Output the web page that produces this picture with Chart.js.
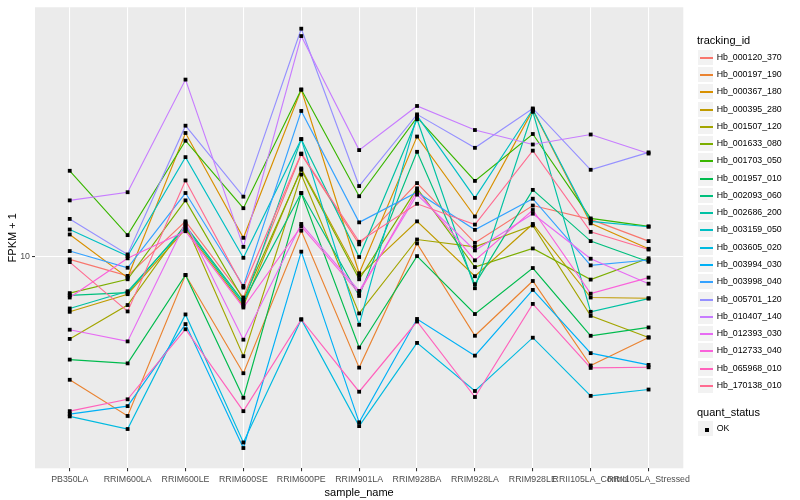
<!DOCTYPE html>
<html>
<head>
<meta charset="utf-8">
<script src="https://cdn.jsdelivr.net/npm/chart.js@4/dist/chart.umd.min.js"></script>
<style>
  body { margin: 0; background: #ffffff; }
  #wrap { position: relative; width: 800px; height: 500px; font-family: 'Liberation Sans', Arial, sans-serif; }
  #c { position: absolute; left: 0; top: 0; }
  .lgt { position: absolute; left: 697px; font-size: 11px; line-height: 13px; color: #000; white-space: nowrap; }
  .key { position: absolute; left: 697px; width: 17px; height: 17px; box-sizing: border-box; background: #F2F2F2; border: 0.5px solid #ffffff; }
  .kline { position: absolute; left: 1.5px; width: 13.5px; top: 7px; height: 1.6px; }
  .kpt { position: absolute; left: 6.5px; top: 6.5px; width: 4px; height: 4px; background: #000; }
  .lbl { position: absolute; left: 716.7px; font-size: 8.8px; line-height: 17px; color: #000; white-space: nowrap; }
</style>
</head>
<body>
<div id="wrap">
  <canvas id="c" width="800" height="500"></canvas>
</div>
<script>
// ---------- data ----------
const categories = ['PB350LA', 'RRIM600LA', 'RRIM600LE', 'RRIM600SE', 'RRIM600PE', 'RRIM901LA',
  'RRIM928BA', 'RRIM928LA', 'RRIM928LE', 'RRII105LA_Control', 'RRII105LA_Stressed'];

const trackingIds = ['Hb_000120_370', 'Hb_000197_190', 'Hb_000367_180', 'Hb_000395_280', 'Hb_001507_120',
  'Hb_001633_080', 'Hb_001703_050', 'Hb_001957_010', 'Hb_002093_060', 'Hb_002686_200',
  'Hb_003159_050', 'Hb_003605_020', 'Hb_003994_030', 'Hb_003998_040', 'Hb_005701_120',
  'Hb_010407_140', 'Hb_012393_030', 'Hb_012733_040', 'Hb_065968_010', 'Hb_170138_010'];

// FPKM + 1 per sample (order of categories)
const hb_000120_370 = [9.77, 8.60, 13.1, 7.28, 22.0, 10.97, 17.6, 11.10, 14.8, 13.3, 11.25];
const hb_000197_190 = [3.86, 2.92, 8.66, 4.06, 12.19, 4.24, 11.05, 5.42, 8.27, 4.31, 5.35];
const hb_000367_180 = [11.84, 8.49, 25.9, 11.54, 36.2, 8.78, 25.2, 13.6, 30.9, 12.9, 10.6];
const hb_000395_280 = [6.52, 7.47, 12.33, 6.83, 19.7, 8.60, 13.1, 8.58, 12.84, 7.28, 7.24];
const hb_001507_120 = [5.29, 6.87, 12.81, 4.63, 18.8, 6.44, 11.39, 10.76, 12.69, 6.32, 5.35];
const hb_001633_080 = [7.53, 8.38, 15.4, 7.15, 19.5, 8.38, 16.9, 9.21, 10.63, 8.36, 9.85];
const hb_001703_050 = [19.35, 11.78, 24.4, 14.5, 36.2, 15.9, 29.2, 17.9, 25.7, 13.4, 12.6];
const hb_001957_010 = [4.51, 4.38, 8.66, 3.36, 16.3, 4.95, 10.02, 6.41, 9.14, 5.42, 5.78];
const hb_002093_060 = [7.40, 7.56, 12.67, 7.04, 16.3, 7.37, 22.4, 8.07, 16.7, 11.25, 9.59];
const hb_002686_200 = [6.69, 7.64, 12.52, 6.93, 24.7, 9.95, 28.8, 7.82, 30.5, 6.52, 7.22];
const hb_003159_050 = [12.30, 10.02, 21.5, 9.89, 24.7, 5.90, 29.6, 15.7, 31.1, 13.1, 12.57];
const hb_003605_020 = [2.91, 2.64, 6.39, 2.38, 6.15, 2.70, 5.13, 3.54, 5.34, 3.41, 3.58];
const hb_003994_030 = [2.96, 3.15, 5.93, 2.28, 10.37, 2.78, 6.17, 4.65, 7.72, 4.74, 4.33];
const hb_003998_040 = [10.42, 9.16, 16.3, 7.96, 30.7, 13.0, 16.4, 12.27, 15.6, 9.33, 9.72];
const hb_005701_120 = [13.35, 10.15, 27.4, 15.85, 57.9, 17.2, 29.9, 23.1, 31.3, 19.5, 22.3];
const hb_010407_140 = [15.4, 16.4, 39.1, 10.76, 54.7, 22.7, 31.9, 26.5, 23.7, 25.6, 22.1];
const hb_012393_030 = [5.68, 5.19, 12.96, 5.26, 12.84, 7.66, 16.1, 10.47, 13.9, 9.82, 8.10];
const hb_012733_040 = [7.28, 9.85, 12.14, 6.74, 12.6, 7.52, 16.6, 9.70, 14.3, 7.50, 8.49];
const hb_065968_010 = [3.03, 3.32, 5.70, 3.03, 6.15, 3.52, 6.05, 3.38, 6.93, 4.23, 4.25];
const hb_170138_010 = [9.57, 6.54, 17.96, 7.86, 22.1, 11.19, 15.0, 12.78, 22.6, 12.08, 10.54];

const seriesValues = [hb_000120_370, hb_000197_190, hb_000367_180, hb_000395_280, hb_001507_120,
  hb_001633_080, hb_001703_050, hb_001957_010, hb_002093_060, hb_002686_200,
  hb_003159_050, hb_003605_020, hb_003994_030, hb_003998_040, hb_005701_120,
  hb_010407_140, hb_012393_030, hb_012733_040, hb_065968_010, hb_170138_010];

const yTickValues = [10];
const quantStatus = ['OK'];

// ---------- styles ----------
const palette = ['#F8766D', '#EA8331', '#D89000', '#C09B00', '#A3A500', '#7CAE00', '#39B600', '#00BB4E',
  '#00BF7D', '#00C1A3', '#00BFC4', '#00BAE0', '#00B0F6', '#35A2FF', '#9590FF', '#C77CFF',
  '#E76BF3', '#FA62DB', '#FF62BC', '#FF6C91'];
const FAMILY = "'Liberation Sans', Arial, sans-serif";

const panelBg = {
  id: 'panelBg',
  beforeDraw(chart) {
    const { ctx, chartArea: a } = chart;
    ctx.save();
    ctx.fillStyle = '#EBEBEB';
    ctx.fillRect(a.left, a.top, a.right - a.left, a.bottom - a.top);
    ctx.restore();
  }
};

// black square markers drawn on top of all lines (as ggplot does)
const markers = {
  id: 'markers',
  afterDatasetsDraw(chart) {
    const ctx = chart.ctx;
    ctx.save();
    ctx.fillStyle = '#000000';
    const s = 3.8;
    chart.getSortedVisibleDatasetMetas().forEach(meta => {
      meta.data.forEach(el => {
        ctx.fillRect(el.x - s / 2, el.y - s / 2, s, s);
      });
    });
    ctx.restore();
  }
};

const N = trackingIds.length;
new Chart(document.getElementById('c'), {
  type: 'line',
  data: {
    datasets: trackingIds.map((id, i) => ({
      label: id,
      data: seriesValues[i].map((v, j) => ({ x: j, y: v })),
      borderColor: palette[i],
      backgroundColor: palette[i],
      borderWidth: 1.15,
      pointRadius: 0,
      fill: false,
      tension: 0,
      order: N - i
    }))
  },
  options: {
    responsive: false,
    animation: false,
    events: [],
    layout: { padding: { top: 5, right: 116.7, left: 0, bottom: 0 } },
    plugins: { legend: { display: false }, tooltip: { enabled: false } },
    scales: {
      x: {
        type: 'linear',
        min: -0.6,
        max: 10.6,
        afterBuildTicks(s) { s.ticks = categories.map((c, i) => ({ value: i })); },
        afterFit(s) { s.height = 31.7; },
        ticks: {
          autoSkip: false, maxRotation: 0, minRotation: 0, padding: 2.5,
          color: '#4D4D4D', font: { size: 8.8, family: FAMILY },
          callback: (v) => categories[v]
        },
        grid: { color: '#FFFFFF', lineWidth: 1.07, drawTicks: true, tickLength: 3, tickColor: '#333333', tickWidth: 1.07 },
        border: { display: false },
        title: { display: true, text: 'sample_name', color: '#000', font: { size: 11, family: FAMILY }, padding: { top: 5.1, bottom: 0 } }
      },
      y: {
        type: 'logarithmic',
        min: 1.95,
        max: 68.3,
        afterBuildTicks(s) { s.ticks = yTickValues.map(v => ({ value: v })); },
        afterFit(s) { s.width = 35; },
        ticks: {
          padding: 2, color: '#4D4D4D', font: { size: 8.8, family: FAMILY },
          callback: (v) => String(v)
        },
        grid: { color: '#FFFFFF', lineWidth: 1.07, drawTicks: true, tickLength: 3, tickColor: '#333333', tickWidth: 1.07 },
        border: { display: false },
        title: { display: true, text: 'FPKM + 1', color: '#000', font: { size: 11, family: FAMILY }, padding: { top: 6, bottom: 0 } }
      }
    }
  },
  plugins: [panelBg, markers]
});

// ---------- legend (HTML text) ----------
const wrap = document.getElementById('wrap');
function add(html) { const d = document.createElement('div'); d.innerHTML = html; wrap.appendChild(d.firstChild); }
add('<div class="lgt" style="top:34px">tracking_id</div>');
const step = 17.28, top0 = 48.66;
trackingIds.forEach((id, i) => {
  const t = Math.round(top0 + i * step);
  add(`<div class="key" style="top:${t}px"><div class="kline" style="background:${palette[i]}"></div></div>`);
  add(`<div class="lbl" style="top:${t}px">${id}</div>`);
});
add('<div class="lgt" style="top:406px">quant_status</div>');
quantStatus.forEach((q, i) => {
  const t = Math.round(419.66 + i * step);
  add(`<div class="key" style="top:${t}px"><div class="kpt"></div></div>`);
  add(`<div class="lbl" style="top:${t}px">${q}</div>`);
});
</script>
</body>
</html>
